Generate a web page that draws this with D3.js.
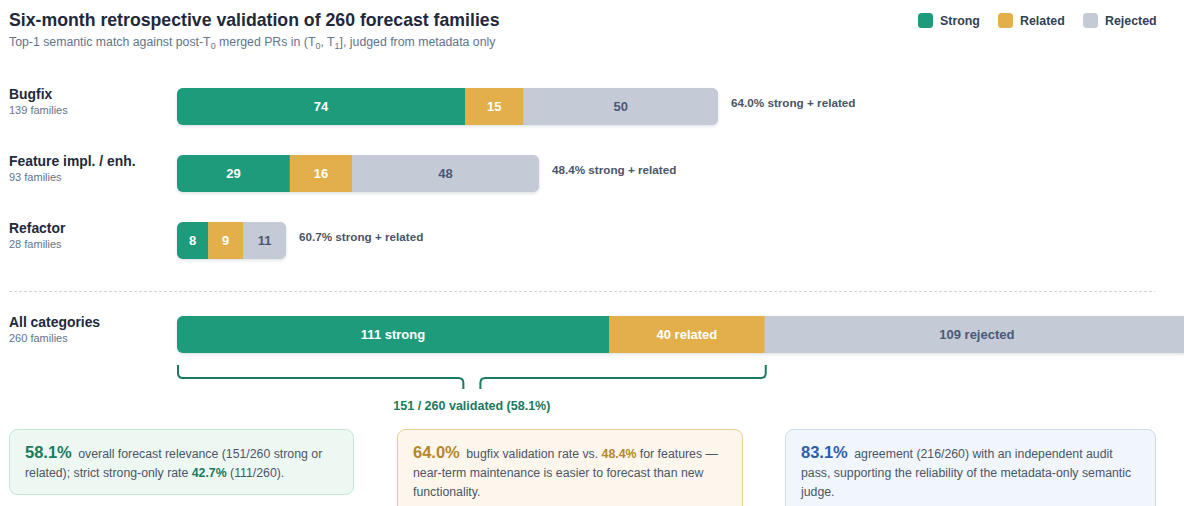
<!DOCTYPE html>
<html lang="en">
<head>
<meta charset="UTF-8">
<title>Six-month retrospective validation</title>
<script src="https://d3js.org/d3.v7.min.js"></script>
<style>
  body { margin: 0; background: #fff; overflow: hidden; }
  svg { display: block; font-family: "Liberation Sans", Arial, sans-serif; }
</style>
</head>
<body>
<svg id="chart" width="1184" height="506"></svg>
<script>
// ---- data ----
const categories = ["Bugfix", "Feature impl. / enh.", "Refactor"];
const strong = [74, 29, 8];
const related = [15, 16, 9];
const rejected = [50, 48, 11];
const totalStrong = 111, totalRelated = 40, totalRejected = 109;
const statuses = ["Strong", "Related", "Rejected"];
const colors = ["#1e9b7b", "#e2af4a", "#c5cbd6"];

const svg = d3.select("#chart");

const defs = svg.append("defs");
const f = defs.append("filter").attr("id", "shadow").attr("x", "-5%").attr("y", "-30%").attr("width", "110%").attr("height", "170%");
f.append("feDropShadow").attr("dx", 0).attr("dy", 1.5).attr("stdDeviation", 1.8)
  .attr("flood-color", "#1e293b").attr("flood-opacity", 0.14);

// title
svg.append("text").attr("x", 9).attr("y", 26)
  .attr("font-size", 17.7).attr("font-weight", "bold").attr("fill", "#1e293b")
  .text("Six-month retrospective validation of 260 forecast families");
const sub = svg.append("text").attr("x", 9).attr("y", 46).attr("font-size", 12.3).attr("fill", "#64748b");
sub.append("tspan").text("Top-1 semantic match against post-T");
sub.append("tspan").attr("font-size", 9).attr("dy", 3).text("0");
sub.append("tspan").attr("dy", -3).text(" merged PRs in (T");
sub.append("tspan").attr("font-size", 9).attr("dy", 3).text("0");
sub.append("tspan").attr("dy", -3).text(", T");
sub.append("tspan").attr("font-size", 9).attr("dy", 3).text("1");
sub.append("tspan").attr("dy", -3).text("], judged from metadata only");

// legend
const legX = [918, 998, 1083];
const leg = svg.append("g").selectAll("g").data(statuses).join("g")
  .attr("transform", (d, i) => `translate(${legX[i]},13)`);
leg.append("rect").attr("width", 15).attr("height", 15).attr("rx", 3.5).attr("fill", (d, i) => colors[i]);
leg.append("text").attr("x", 22).attr("y", 12).attr("font-size", 12.4).attr("font-weight", "bold")
  .attr("fill", "#334155").text(d => d);

// scales
const x = d3.scaleLinear().domain([0, 260]).range([177, 1189]);
const rowY = d3.scaleBand().domain(categories).range([88, 259]).paddingInner(30 / 67).paddingOuter(0);
const barH = rowY.bandwidth();

function stackedBar(g, vals, labels, y) {
  const segs = [];
  let acc = 0;
  vals.forEach((v, i) => { segs.push({ x0: acc, x1: acc + v, v, i, label: labels[i] }); acc += v; });
  const clipId = "clip" + Math.round(y);
  defs.append("clipPath").attr("id", clipId).append("rect")
    .attr("x", x(0)).attr("y", y).attr("width", x(acc) - x(0)).attr("height", barH).attr("rx", 6);
  g.append("rect").attr("x", x(0)).attr("y", y).attr("width", x(acc) - x(0)).attr("height", barH)
    .attr("rx", 6).attr("fill", colors[2]).attr("filter", "url(#shadow)");
  const bg = g.append("g").attr("clip-path", `url(#${clipId})`);
  bg.selectAll("rect").data(segs).join("rect")
    .attr("x", d => x(d.x0)).attr("y", y).attr("width", d => x(d.x1) - x(d.x0)).attr("height", barH)
    .attr("fill", d => colors[d.i]);
  g.selectAll("text.v").data(segs).join("text").attr("class", "v")
    .attr("x", d => (x(d.x0) + x(d.x1)) / 2).attr("y", y + barH / 2 + 4.5)
    .attr("text-anchor", "middle").attr("font-size", 13).attr("font-weight", "bold")
    .attr("fill", d => d.i === 2 ? "#4b5875" : "#fff").text(d => d.label);
  return acc;
}

categories.forEach((c, i) => {
  const y = rowY(c);
  const g = svg.append("g");
  const total = strong[i] + related[i] + rejected[i];
  g.append("text").attr("x", 9).attr("y", y + 11).attr("font-size", 13.9).attr("font-weight", "bold")
    .attr("fill", "#1e293b").text(c);
  g.append("text").attr("x", 9).attr("y", y + 25.5).attr("font-size", 11).attr("fill", "#64748b")
    .text(total + " families");
  const vals = [strong[i], related[i], rejected[i]];
  stackedBar(g, vals, vals.map(String), y);
  const pct = ((strong[i] + related[i]) / total * 100).toFixed(1);
  g.append("text").attr("x", x(total) + 13).attr("y", y + barH / 2 + 0.5)
    .attr("font-size", 11.7).attr("font-weight", "bold").attr("fill", "#4a5568")
    .text(pct + "% strong + related");
});

// separator
svg.append("line").attr("x1", 9).attr("x2", 1155).attr("y1", 291.5).attr("y2", 291.5)
  .attr("stroke", "#cfd6e0").attr("stroke-dasharray", "3,2").attr("stroke-width", 1);

// all categories
const allY = 316;
const all = [totalStrong, totalRelated, totalRejected];
const allTotal = d3.sum(all);
const ga = svg.append("g");
ga.append("text").attr("x", 9).attr("y", allY + 11).attr("font-size", 13.9).attr("font-weight", "bold")
  .attr("fill", "#1e293b").text("All categories");
ga.append("text").attr("x", 9).attr("y", allY + 26).attr("font-size", 11).attr("fill", "#64748b")
  .text(allTotal + " families");
stackedBar(ga, all, [totalStrong + " strong", totalRelated + " related", totalRejected + " rejected"], allY);

// bracket under strong + related
const bx0 = x(0) + 1, bx1 = x(totalStrong + totalRelated) + 1;
const bcx = (bx0 + bx1) / 2, bTop = 365, bMid = 378, bTip = 389, br = 5, bGap = 8.5;
const bp = d3.path();
bp.moveTo(bx0, bTop); bp.lineTo(bx0, bMid - br); bp.quadraticCurveTo(bx0, bMid, bx0 + br, bMid);
bp.lineTo(bcx - bGap - br, bMid); bp.quadraticCurveTo(bcx - bGap, bMid, bcx - bGap, bMid + br); bp.lineTo(bcx - bGap, bTip);
bp.moveTo(bcx + bGap, bTip); bp.lineTo(bcx + bGap, bMid + br); bp.quadraticCurveTo(bcx + bGap, bMid, bcx + bGap + br, bMid);
bp.lineTo(bx1 - br, bMid); bp.quadraticCurveTo(bx1, bMid, bx1, bMid - br); bp.lineTo(bx1, bTop);
svg.append("path").attr("d", bp.toString()).attr("fill", "none").attr("stroke", "#1a7a60").attr("stroke-width", 2);
const validated = totalStrong + totalRelated;
svg.append("text").attr("x", bcx).attr("y", 410).attr("text-anchor", "middle")
  .attr("font-size", 12.5).attr("font-weight", "bold").attr("fill", "#1a7a60")
  .text(`${validated} / ${allTotal} validated (${(validated / allTotal * 100).toFixed(1)}%)`);

// callout boxes
const boxes = [
  { x: 9, w: 344, h: 65, fill: "#eef8f3", stroke: "#c3e6d5", accent: "#1a7a60",
    lines: [[["58.1%", "big"], [" overall forecast relevance (151/260 strong or", ""]],
            [["related); strict strong-only rate ", ""], ["42.7%", "b"], [" (111/260).", ""]]] },
  { x: 397, w: 345, h: 90, fill: "#fdf6ec", stroke: "#eccb8e", accent: "#b5862b",
    lines: [[["64.0%", "big"], [" bugfix validation rate vs. ", ""], ["48.4%", "b"], [" for features \u2014", ""]],
            [["near-term maintenance is easier to forecast than new", ""]],
            [["functionality.", ""]]] },
  { x: 785, w: 370, h: 90, fill: "#f1f5fc", stroke: "#cbdaf0", accent: "#2d5ea8",
    lines: [[["83.1%", "big"], [" agreement (216/260) with an independent audit", ""]],
            [["pass, supporting the reliability of the metadata-only semantic", ""]],
            [["judge.", ""]]] }
];
const bxg = svg.append("g").selectAll("g").data(boxes).join("g").attr("transform", d => `translate(${d.x},429)`);
bxg.append("rect").attr("x", 0.5).attr("y", 0.5).attr("width", d => d.w).attr("height", d => d.h).attr("rx", 8)
  .attr("fill", d => d.fill).attr("stroke", d => d.stroke);
bxg.each(function (d) {
  const g = d3.select(this);
  d.lines.forEach((ln, li) => {
    const t = g.append("text").attr("x", 16).attr("y", 28.5 + li * 19).attr("font-size", 12.3).attr("fill", "#4a5568");
    ln.forEach(([s, k], si) => {
      const sp = t.append("tspan").text(s);
      if (k === "big") sp.attr("font-size", 16.5).attr("font-weight", "bold").attr("fill", d.accent);
      if (k === "b") sp.attr("font-weight", "bold").attr("fill", d.accent);
      if (si === 1 && ln[0][1] === "big") sp.attr("dx", 3);
    });
  });
});
</script>
</body>
</html>
